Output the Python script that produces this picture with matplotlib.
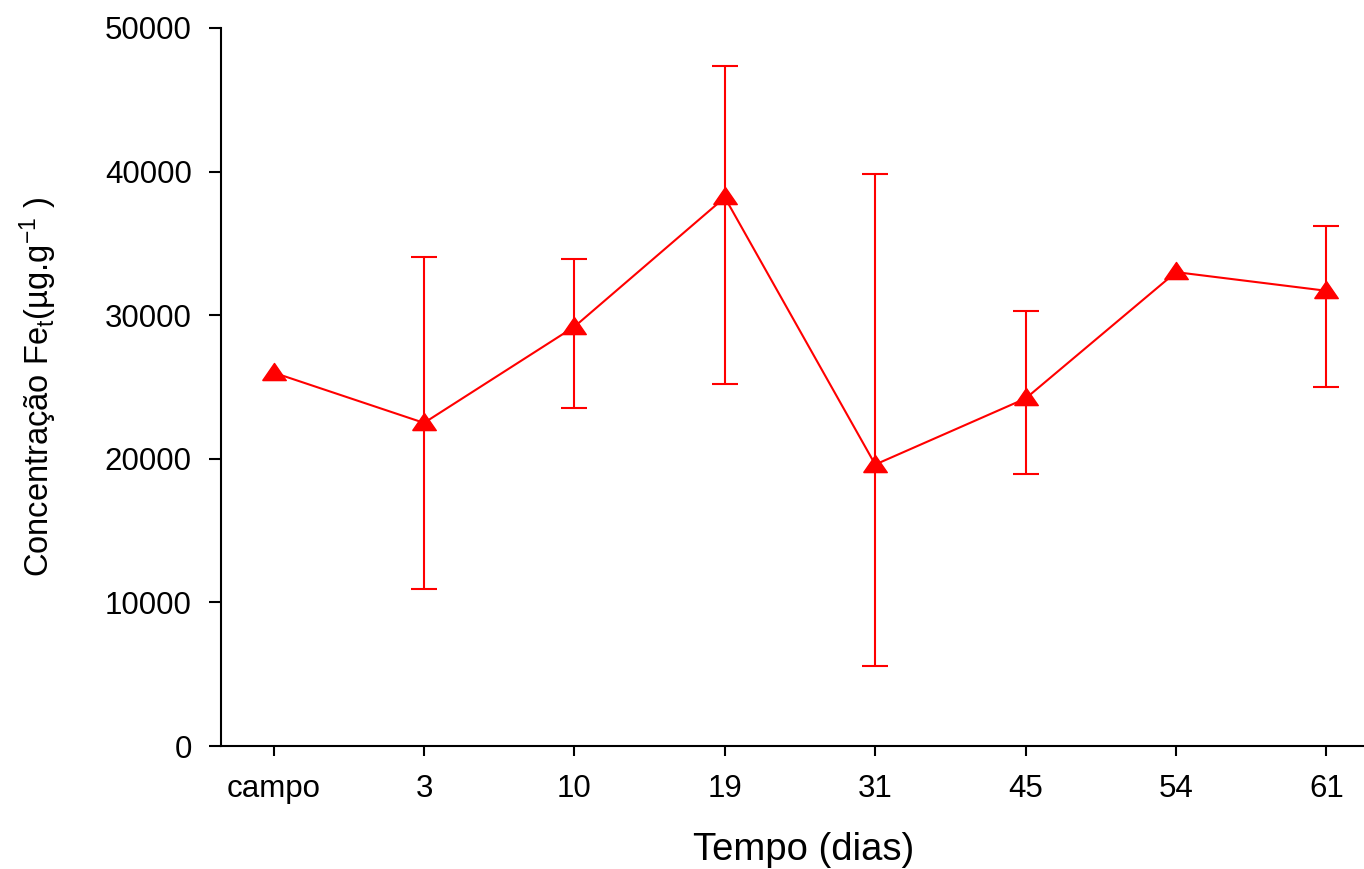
"""Fe_t concentration over time, with error bars (out.png)."""

import matplotlib
matplotlib.use("Agg")
import matplotlib.pyplot as plt
import numpy as np

plt.rcParams["font.family"] = ["Liberation Sans", "DejaVu Sans"]
plt.rcParams["mathtext.fontset"] = "custom"
plt.rcParams["mathtext.rm"] = "Liberation Sans"
plt.rcParams["mathtext.it"] = "Liberation Sans:italic"

# data
days = ["campo", "3", "10", "19", "31", "45", "54", "61"]
fe_mean = [26000, 22500, 29200, 38200, 19600, 24200, 33000, 31700]
err_low = [0, 11570, 5660, 13000, 14030, 5290, 0, 6690]
err_high = [0, 11550, 4720, 9150, 20230, 6090, 0, 4510]

RED = "#ff0000"
tri = [(-1.0, -0.6), (1.0, -0.6), (0.0, 0.85), (-1.0, -0.6)]

fig = plt.figure(figsize=(13.64, 8.69), dpi=100)
ax = fig.add_axes([221 / 1364, 1 - 746 / 869, 1 - 221 / 1364, (746 - 28) / 869])

x = np.arange(len(days))
mean = np.array(fe_mean)
lo = np.array(err_low)
hi = np.array(err_high)
has_err = (lo > 0) | (hi > 0)

# caps only where there is an error bar (campo and 54 have none)
ax.errorbar(x[has_err], mean[has_err], yerr=[lo[has_err], hi[has_err]], fmt="none",
            ecolor=RED, elinewidth=1.5, capsize=9.5, capthick=1.5, zorder=2)
ax.plot(x, mean, color=RED, linewidth=1.5, marker=tri, markersize=17,
        markerfacecolor=RED, markeredgecolor=RED, zorder=3)

ax.set_xlim(-0.35, 7.25)
ax.set_ylim(0, 50000)
ax.set_xticks(x)
ax.set_xticklabels(days)
ax.set_yticks(np.arange(0, 50001, 10000))

for side in ("top", "right"):
    ax.spines[side].set_visible(False)
for side in ("left", "bottom"):
    ax.spines[side].set_linewidth(1.5)
ax.tick_params(axis="x", direction="out", length=7.5, width=1.5, pad=13, labelsize=22.5)
ax.tick_params(axis="y", direction="out", length=9, width=1.5, pad=12, labelsize=22.5)

ax.set_xlabel("Tempo (dias)", fontsize=27.5, labelpad=20)
ax.xaxis.label.set_x(0.51)
ax.set_ylabel(r"Concentração Fe$_\mathrm{t}$(µg.g$^{-1}$ )", fontsize=23.5)
ax.yaxis.set_label_coords(-0.142, 0.5)

fig.savefig("out.png", dpi=100)
